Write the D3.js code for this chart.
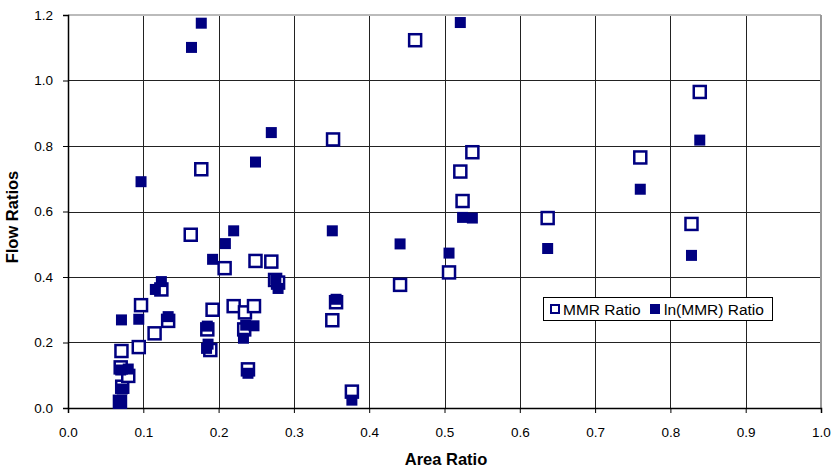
<!DOCTYPE html>
<meta charset="utf-8">
<html>
<head>
<title>flow vs area ratio</title>
<style>
    body {
        margin: 0;
        background: #fff;
    }
    text {
        font-family: Arial, "Liberation Sans", sans-serif;
        fill: #000;
    }
</style>
<script src="https://d3js.org/d3.v7.min.js"></script>
</head>
<body>
<div id="chart"></div>

<script>

// MMR Ratio (open squares)
var mmrArea = [0.069, 0.072, 0.080, 0.070, 0.071, 0.094, 0.097, 0.115, 0.124, 0.133,
               0.163, 0.177, 0.185, 0.189, 0.192, 0.208, 0.220, 0.234, 0.235, 0.239,
               0.247, 0.249, 0.270, 0.275, 0.279, 0.351, 0.352, 0.356, 0.377, 0.441,
               0.461, 0.506, 0.521, 0.524, 0.537, 0.637, 0.760, 0.828, 0.839];
var mmrFlow = [0.019, 0.065, 0.098, 0.124, 0.174, 0.186, 0.314, 0.228, 0.362, 0.266,
               0.529, 0.729, 0.240, 0.177, 0.300, 0.427, 0.311, 0.240, 0.292, 0.118,
               0.311, 0.449, 0.447, 0.391, 0.383, 0.268, 0.820, 0.323, 0.050, 0.376,
               1.123, 0.414, 0.722, 0.632, 0.781, 0.580, 0.765, 0.562, 0.965];

// ln(MMR) Ratio (filled squares)
var lnArea = [0.069, 0.072, 0.070, 0.080, 0.071, 0.094, 0.097, 0.116, 0.124, 0.133,
              0.164, 0.177, 0.185, 0.184, 0.186, 0.192, 0.209, 0.220, 0.233, 0.236,
              0.239, 0.247, 0.249, 0.270, 0.276, 0.279, 0.351, 0.356, 0.377, 0.441,
              0.506, 0.521, 0.524, 0.537, 0.637, 0.760, 0.828, 0.839];
var lnFlow = [0.019, 0.058, 0.116, 0.119, 0.269, 0.271, 0.691, 0.362, 0.386, 0.279,
              1.101, 1.175, 0.250, 0.182, 0.195, 0.454, 0.502, 0.541, 0.213, 0.253,
              0.106, 0.251, 0.751, 0.841, 0.394, 0.365, 0.541, 0.332, 0.024, 0.501,
              0.473, 1.177, 0.582, 0.580, 0.487, 0.668, 0.466, 0.818];

var xTicks = [0, 0.1, 0.2, 0.3, 0.4, 0.5, 0.6, 0.7, 0.8, 0.9, 1.0];
var yTicks = [0, 0.2, 0.4, 0.6, 0.8, 1.0, 1.2];
var seriesNames = ["MMR Ratio", "ln(MMR) Ratio"];

var navy = "#000080";

// set the dimensions and margins of the graph
var margin = {top: 15, right: 10, bottom: 63, left: 68},
    width = 831 - margin.left - margin.right,
    height = 471 - margin.top - margin.bottom;

var x = d3.scaleLinear().domain([0, 1]).range([0, width]);
var y = d3.scaleLinear().domain([0, 1.2]).range([height, 0]);

var svg = d3.select("#chart")
  .append("svg")
    .attr("width", 831)
    .attr("height", 471)
  .append("g")
    .attr("transform", "translate(" + margin.left + "," + margin.top + ")");

// grid lines
svg.selectAll(".vgrid")
    .data(xTicks.slice(1, -1))
  .enter().append("line")
    .attr("x1", function(d) { return Math.round(x(d)) + 0.5; })
    .attr("x2", function(d) { return Math.round(x(d)) + 0.5; })
    .attr("y1", 0)
    .attr("y2", height)
    .style("stroke", "#222");

svg.selectAll(".hgrid")
    .data(yTicks.slice(1, -1))
  .enter().append("line")
    .attr("x1", 0)
    .attr("x2", width)
    .attr("y1", function(d) { return Math.round(y(d)) + 0.5; })
    .attr("y2", function(d) { return Math.round(y(d)) + 0.5; })
    .style("stroke", "#222");

// top and right border of the plot area
svg.append("line")
    .attr("x1", 0).attr("x2", width)
    .attr("y1", 0).attr("y2", 0)
    .style("stroke", "#bbb")
    .style("stroke-width", 2);
svg.append("line")
    .attr("x1", width).attr("x2", width)
    .attr("y1", 0).attr("y2", height)
    .style("stroke", "#999")
    .style("stroke-width", 2);

// Add the X Axis
var xAxis = svg.append("g")
    .attr("transform", "translate(0," + height + ")")
    .call(d3.axisBottom(x).tickValues(xTicks).tickFormat(d3.format(".1f"))
        .tickSize(5).tickPadding(14));

// Add the Y Axis
var yAxis = svg.append("g")
    .call(d3.axisLeft(y).tickValues(yTicks).tickFormat(d3.format(".1f"))
        .tickSize(5).tickPadding(10));

[xAxis, yAxis].forEach(function(a) {
  a.select(".domain").style("stroke", "#000").style("stroke-width", 1.5);
  a.selectAll(".tick line").style("stroke", "#000");
  a.selectAll("text")
      .style("font-size", "13.5px")
      .style("font-family", "Arial, 'Liberation Sans', sans-serif")
      .style("fill", "#000");
});

// MMR Ratio markers
svg.selectAll(".mmr")
    .data(mmrArea)
  .enter().append("rect")
    .attr("x", function(d) { return x(d) - 6; })
    .attr("y", function(d, i) { return y(mmrFlow[i]) - 6; })
    .attr("width", 12)
    .attr("height", 12)
    .style("fill", "#fff")
    .style("stroke", navy)
    .style("stroke-width", 2.5);

// ln(MMR) Ratio markers
svg.selectAll(".ln")
    .data(lnArea)
  .enter().append("rect")
    .attr("x", function(d) { return x(d) - 5.5; })
    .attr("y", function(d, i) { return y(lnFlow[i]) - 5.5; })
    .attr("width", 11)
    .attr("height", 11)
    .style("fill", navy);

// axis titles
svg.append("text")
    .attr("x", 378)
    .attr("y", height + 57)
    .attr("text-anchor", "middle")
    .style("font-size", "16.5px")
    .style("font-weight", "bold")
    .text("Area Ratio");

svg.append("text")
    .attr("transform", "translate(" + (-50) + "," + 202 + ") rotate(-90)")
    .attr("text-anchor", "middle")
    .style("font-size", "16.5px")
    .style("font-weight", "bold")
    .text("Flow Ratios");

// legend
var legend = svg.append("g")
    .attr("transform", "translate(" + (543.5 - margin.left) + "," + (297.5 - margin.top) + ")");

legend.append("rect")
    .attr("width", 229)
    .attr("height", 23)
    .style("fill", "#fff")
    .style("stroke", "#000")
    .style("stroke-width", 1);

legend.append("rect")
    .attr("x", 7.5).attr("y", 7.5)
    .attr("width", 8).attr("height", 8)
    .style("fill", "#fff")
    .style("stroke", navy)
    .style("stroke-width", 2);

legend.append("text")
    .attr("x", 19.5).attr("y", 17)
    .style("font-size", "15.5px")
    .text(seriesNames[0]);

legend.append("rect")
    .attr("x", 106.5).attr("y", 6.5)
    .attr("width", 10).attr("height", 10)
    .style("fill", navy);

legend.append("text")
    .attr("x", 120.5).attr("y", 17)
    .style("font-size", "15.5px")
    .text(seriesNames[1]);

</script>
</body>
</html>
